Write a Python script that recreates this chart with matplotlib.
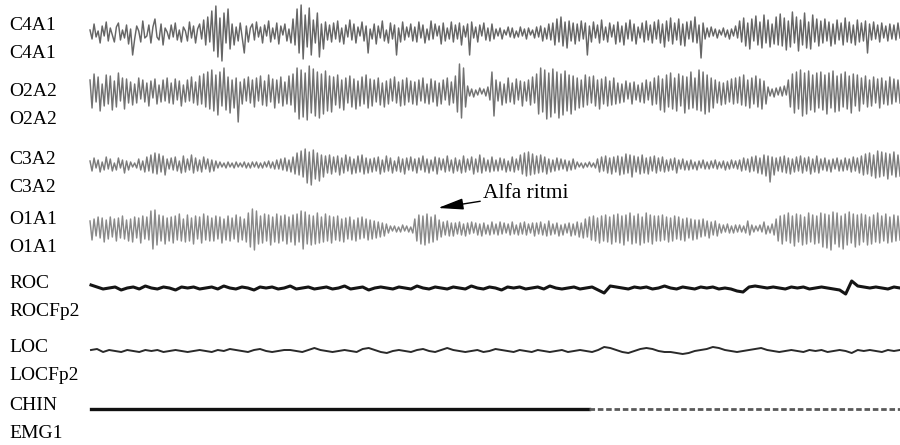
import numpy as np
import matplotlib
matplotlib.use("Agg")
import matplotlib.pyplot as plt

# ---------------- data (amplitudes in px, up = positive) -------------
channel_labels = [("C4A1", "C4A1"), ("O2A2", "O2A2"), ("C3A2", "C3A2"), ("O1A1", "O1A1"),
                  ("ROC", "ROCFp2"), ("LOC", "LOCFp2"), ("CHIN", "EMG1")]

c4a1 = [3,-6,9,-4,2,-10,7,-3,11,-8,5,-2,-9,6,10,-7,3,-5,8,-11,
        4,-22,-6,7,2,-9,12,-5,-3,8,-10,6,14,-4,-7,9,-12,5,1,-6,
        8,-4,10,-7,3,-9,6,2,-8,11,-5,7,-10,4,9,-6,13,-12,16,-9,
        22,-18,27,-24,15,-28,20,-10,24,-16,9,-12,6,-8,10,-5,-20,7,-9,5,
        9,-7,11,-4,6,-10,8,-3,12,-9,5,-6,10,-11,7,-2,9,-8,4,-10,
        14,-12,24,-20,28,-26,18,-14,25,-22,13,-10,20,-24,9,-16,11,-7,8,-9,
        10,-6,12,-9,5,-11,8,-4,13,-7,9,-10,6,-3,11,-8,7,-20,4,-6,
        9,-11,7,-5,12,-8,3,-10,10,-6,8,-22,5,-9,11,-7,6,-4,9,-8,
        6,-9,11,-5,8,-10,4,-7,12,-6,9,-3,7,-11,10,-8,5,-6,11,-9,
        8,-6,10,-12,7,-4,9,-22,11,-5,6,-9,8,-3,10,-7,5,-8,9,-6,
        4,-3,5,-6,3,-2,6,-4,5,-5,2,-4,6,-3,4,-6,5,-2,3,-5,
        6,-4,7,-8,5,-6,9,-7,10,-12,14,-9,16,-13,11,-15,12,-8,10,-11,
        9,-8,12,-6,10,-22,7,-9,11,-5,8,-10,13,-7,6,-9,10,-4,8,-11,
        11,-9,7,-12,10,-6,13,-8,9,-11,6,-5,10,-9,12,-7,8,-10,11,-6,
        13,-10,9,-14,12,-8,15,-11,10,-7,14,-12,9,-13,11,-6,12,-9,16,-10,
        8,-25,10,-6,5,-4,6,-3,4,-5,3,-2,5,-4,3,-6,4,-3,7,-5,
        12,-9,15,-13,10,-16,14,-8,17,-12,11,-15,18,-10,13,-14,9,-11,16,-12,
        19,-13,15,-17,12,-14,21,-10,16,-18,13,-12,20,-15,11,-16,18,-9,14,-13,
        12,-10,14,-8,11,-13,9,-11,13,-7,10,-12,15,-9,11,-10,8,-12,13,-9,
        10,-8,12,-20,9,-7,11,-6,8,-9,10,-5,7,-8,9,-6,8,-7,10,-5]

o2a2 = [12,-16,18,-10,15,-19,8,-14,17,-12,16,-18,11,-15,19,-9,14,-17,13,-11,
        10,-13,8,-11,14,-7,12,-10,9,-14,11,-6,13,-12,7,-10,12,-9,14,-11,
        9,-12,13,-8,11,-14,7,-10,12,-9,15,-11,10,-13,16,-12,18,-15,20,-17,
        22,-19,17,-23,20,-14,24,-18,15,-21,12,-16,14,-30,10,-12,13,-9,15,-11,
        12,-15,14,-9,16,-13,11,-14,17,-10,13,-16,12,-11,15,-14,10,-12,16,-13,
        18,-20,24,-27,22,-25,19,-28,26,-21,23,-24,20,-26,18,-22,21,-19,16,-20,
        15,-13,17,-16,12,-18,14,-11,16,-15,13,-17,11,-14,15,-12,17,-16,13,-14,
        12,-10,14,-13,9,-15,11,-12,13,-9,15,-11,10,-14,12,-13,14,-10,11,-12,
        10,-13,12,-9,14,-11,8,-12,13,-10,11,-14,9,-12,12,-8,14,-13,10,-11,
        16,-20,28,-26,24,-15,6,-4,3,-5,2,-3,4,-2,3,-4,5,-8,20,-24,
        12,-9,10,-13,8,-11,14,-10,9,-12,13,-8,11,-14,10,-9,12,-13,15,-11,
        18,-22,24,-20,22,-27,19,-25,23,-21,20,-26,18,-23,21,-19,17,-22,16,-18,
        14,-16,12,-15,17,-13,15,-11,16,-14,12,-17,13,-12,15,-14,11,-13,14,-12,
        9,-11,8,-10,11,-7,9,-12,10,-8,7,-10,9,-11,12,-8,10,-13,14,-12,
        16,-18,13,-20,17,-15,19,-17,14,-19,18,-14,16,-21,15,-17,20,-16,14,-18,
        22,-19,20,-22,17,-20,14,-16,12,-11,10,-13,9,-12,11,-10,13,-12,14,-11,
        15,-13,17,-14,12,-16,14,-12,16,-15,13,-17,11,-12,5,-4,3,-5,4,-3,
        5,-4,6,-3,12,-15,18,-21,20,-17,22,-24,19,-22,21,-18,17,-20,19,-16,
        20,-18,17,-22,19,-16,21,-20,16,-19,18,-15,20,-17,16,-21,18,-14,17,-19,
        14,-12,16,-15,12,-14,15,-11,13,-16,14,-12,11,-13,15,-12,13,-10,12,-11]

c3a2 = [4,-6,7,-3,5,-7,3,-5,8,-4,6,-6,2,-5,7,-3,5,-8,4,-5,
        3,-2,2,-3,6,-5,4,-7,8,-6,10,-8,12,-9,11,-7,9,-10,6,-4,
        7,-5,8,-6,4,-8,9,-7,6,-5,10,-8,7,-6,5,-7,8,-4,6,-7,
        5,-6,4,-3,3,-2,2,-3,3,-2,2,-3,3,-2,2,-2,3,-3,2,-3,
        3,-2,3,-3,2,-3,3,-2,4,-3,3,-4,5,-4,6,-5,7,-6,5,-7,
        8,-9,12,-10,14,-12,16,-18,13,-20,15,-14,12,-16,10,-12,9,-8,10,-9,
        8,-7,9,-10,7,-8,10,-6,8,-9,6,-8,9,-7,10,-9,7,-8,6,-7,
        7,-6,8,-9,5,-7,9,-6,7,-8,4,-6,8,-7,6,-9,7,-5,8,-6,
        6,-8,7,-5,9,-7,6,-8,5,-6,8,-9,7,-5,6,-7,9,-6,5,-8,
        7,-6,5,-8,9,-7,6,-5,8,-9,6,-7,10,-8,7,-6,5,-7,8,-6,
        5,-6,7,-5,6,-7,4,-6,8,-7,6,-5,10,-9,12,-11,13,-10,11,-9,
        9,-8,10,-7,8,-9,6,-7,5,-6,7,-5,6,-4,5,-6,4,-5,6,-4,
        3,-2,2,-3,2,-2,3,-2,2,-3,6,-7,8,-6,9,-8,7,-9,8,-7,
        9,-10,8,-9,11,-8,10,-12,9,-7,8,-9,10,-8,7,-9,8,-6,9,-8,
        7,-6,8,-7,5,-6,6,-5,7,-8,5,-4,6,-5,4,-5,5,-4,3,-5,
        4,-3,5,-4,3,-4,4,-3,5,-4,3,-3,4,-5,3,-4,5,-3,4,-4,
        5,-6,7,-5,6,-7,8,-6,9,-8,7,-9,10,-11,9,-17,8,-10,7,-6,
        8,-7,9,-8,7,-9,6,-7,8,-6,9,-8,7,-6,8,-9,6,-7,9,-8,
        6,-5,7,-6,5,-7,6,-4,7,-6,5,-6,7,-5,6,-7,8,-6,7,-8,
        9,-10,11,-9,12,-11,10,-13,14,-12,13,-11,12,-14,11,-10,13,-12,10,-11]

o1a1 = [8,-11,10,-7,12,-9,11,-13,9,-10,12,-8,10,-12,11,-9,13,-10,9,-12,
        10,-13,12,-9,11,-14,13,-10,12,-11,18,-20,19,-16,14,-12,13,-15,11,-12,
        12,-14,13,-11,15,-12,10,-13,14,-12,11,-15,13,-10,12,-14,15,-11,13,-12,
        11,-12,13,-10,12,-14,10,-11,13,-12,11,-10,14,-13,12,-11,10,-13,16,-18,
        20,-21,18,-15,13,-14,15,-12,14,-16,12,-13,15,-14,13,-12,14,-15,12,-13,
        14,-16,15,-13,18,-20,17,-15,14,-16,13,-15,16,-14,12,-13,15,-12,13,-14,
        12,-11,13,-12,10,-13,11,-10,12,-11,9,-12,11,-10,12,-9,10,-11,9,-10,
        8,-9,7,-8,6,-7,5,-4,3,-2,3,-3,2,-3,4,-2,3,-3,2,-4,
        10,-12,14,-15,13,-16,15,-14,12,-13,14,-11,9,-8,7,-6,8,-7,6,-7,
        6,-5,7,-6,5,-7,6,-5,7,-4,6,-6,5,-7,6,-5,4,-6,7,-5,
        5,-6,7,-5,6,-4,5,-6,7,-5,4,-6,6,-5,7,-6,5,-4,6,-7,
        6,-5,7,-6,5,-7,8,-6,5,-5,6,-7,4,-6,5,-4,6,-7,5,-6,
        7,-8,6,-9,10,-8,12,-11,13,-12,11,-14,13,-12,14,-13,12,-15,14,-13,
        15,-14,13,-16,14,-12,16,-15,13,-14,15,-16,12,-14,16,-13,14,-15,13,-12,
        13,-12,14,-11,12,-13,11,-12,13,-10,12,-11,10,-12,11,-9,10,-11,9,-10,
        9,-8,10,-7,8,-9,7,-6,8,-7,5,-4,4,-3,5,-4,3,-4,4,-3,
        4,-3,3,-4,8,-6,4,-3,3,-2,4,-3,7,-5,3,-4,5,-6,10,-12,
        13,-15,14,-12,16,-14,13,-17,15,-13,14,-16,12,-15,16,-13,14,-15,13,-14,
        16,-18,15,-19,14,-21,17,-15,16,-18,13,-20,15,-16,17,-14,15,-18,14,-16,
        15,-13,14,-16,12,-15,14,-13,16,-14,13,-12,15,-14,12,-13,14,-12,13,-11]

roc = [3,1,-1,0,1,-2,0,1,-1,2,0,-1,1,0,-2,1,0,1,-1,0,
       1,-1,2,0,-1,1,0,-2,1,0,1,-1,0,2,-1,0,1,-1,0,1,
       -1,0,2,-1,0,1,-2,0,1,0,-1,1,0,-1,2,0,-1,1,0,-1,
       1,0,-1,2,0,-1,1,0,-2,1,0,1,-1,0,1,-1,2,0,-1,0,
       1,-1,0,1,-2,-5,2,1,0,-1,1,0,1,-1,0,2,0,-1,1,0,
       -1,1,0,1,-1,0,-1,-3,-4,1,2,1,0,1,0,-1,1,0,1,-1,
       0,1,0,-1,-2,-6,7,2,1,0,1,0,-1,1,0]

loc = [1,2,-1,1,0,-1,1,0,-1,1,0,1,-1,0,1,0,-1,0,1,0,
       -1,1,0,2,1,0,-1,1,2,0,-1,0,1,1,0,-1,1,3,1,0,
       -1,0,1,0,-1,2,3,1,-1,-2,0,1,0,-1,1,2,0,-1,1,3,
       1,0,-1,0,1,-1,0,2,1,0,-1,1,0,-1,1,0,-1,0,1,-1,
       0,1,0,-1,1,4,3,1,-1,-2,0,2,3,2,0,-1,-1,-2,-3,-2,
       0,1,2,4,3,1,0,-1,0,1,2,3,1,0,-1,0,1,0,-1,1,
       0,1,-1,0,1,0,-2,1,0,1,0,-1,1,0,1]

chin = [0,0,0,0,0,0,0,0,0,0,0,0,0,0,0,0,0,0,0,0,
        0,0,0,0,0,0,0,0,0,0,0,0,0,0,0,0,0,0,0,0]

annotation_text = "Alfa ritmi"

# ---------------- layout ----------------
W, H = 900, 445
fig = plt.figure(figsize=(9.0, 4.45), dpi=100)
ax = fig.add_axes([0, 0, 1, 1])
ax.set_xlim(0, W)
ax.set_ylim(H, 0)
ax.axis("off")

font = dict(family="Liberation Serif", size=14, color="black")

label_baselines = [(29.5, 57.5), (96.5, 123.5), (164.5, 192.5), (224.5, 252.5),
                   (287.5, 316.0), (351.5, 379.5), (410.5, 438.0)]
for (l1, l2), (b1, b2) in zip(channel_labels, label_baselines):
    ax.text(9, b1, l1, va="baseline", ha="left", **font)
    ax.text(9, b2, l2, va="baseline", ha="left", **font)

def draw(vals, center, x0, x1, **kw):
    v = np.asarray(vals, dtype=float)
    x = np.linspace(x0, x1, len(v))
    ax.plot(x, center - v, **kw)

draw(c4a1, 33, 90, 900, color="#555555", lw=1.05, alpha=0.9)
draw(o2a2, 92, 90, 900, color="#636363", lw=1.05, alpha=0.9)
draw(c3a2, 165, 90, 900, color="#6e6e6e", lw=1.05, alpha=0.9)
draw(o1a1, 229, 90, 900, color="#7c7c7c", lw=1.05, alpha=0.9)

draw(roc, 288, 91, 900, color="#151515", lw=2.2)
draw(loc, 351, 91, 900, color="#2a2a2a", lw=1.4)

chin_arr = np.asarray(chin, dtype=float)
xc = np.linspace(91, 900, len(chin_arr))
split = 24
ax.plot(xc[:split + 1], 409 - chin_arr[:split + 1], color="#111111", lw=2.4)
ax.plot(xc[split:], 409 - chin_arr[split:], color="#5a5a5a", lw=2.0,
        linestyle=(0, (2, 1)))

ax.annotate(annotation_text, xy=(438, 208), xytext=(483, 194),
            fontfamily="Liberation Serif", fontsize=15.5, va="center", ha="left",
            arrowprops=dict(arrowstyle="-|>,head_length=1.0,head_width=0.22",
                            color="black", lw=1.0, shrinkA=0, shrinkB=0))

fig.savefig("out.png", dpi=100)
